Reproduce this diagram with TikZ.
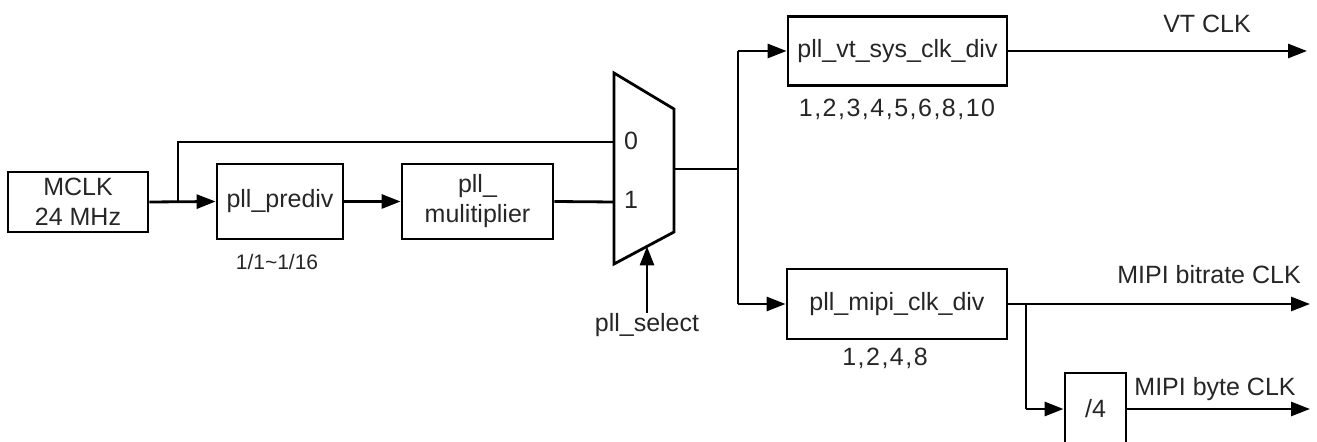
\documentclass[tikz,border=0pt]{standalone}
\usepackage{fontspec}
\setmainfont{Liberation Sans}
\newfontfamily\spacedfont[LetterSpace=6]{Liberation Sans}
\usetikzlibrary{arrows.meta}
\begin{document}
\begin{tikzpicture}[x=0.5pt,y=-0.5pt,
  every node/.style={font=\fontsize{12.5}{15}\selectfont, text=black!85},
  blk/.style={draw, line width=1.4pt, inner sep=0pt, align=center},
  wire/.style={line width=1.4pt},
  arr/.style={line width=1.4pt, -{Triangle[length=9.5pt,width=7pt]}},
  lbl/.style={inner sep=0pt},
  digits/.style={inner sep=0pt, font=\spacedfont\fontsize{12.5}{15}\selectfont}]
\useasboundingbox (0,0) rectangle (1317,442);
\clip (0,0) rectangle (1317,442);
% blocks
\node[blk, minimum width=70pt, minimum height=30pt] (mclk) at (78,202) {MCLK\\24 MHz};
\node[blk, minimum width=63pt, minimum height=37.5pt] (prediv) at (280,201.5) {pll\_prediv};
\node[blk, minimum width=75.5pt, minimum height=37.5pt] (mult) at (477.5,201.5) {pll\_\\mulitiplier};
\node[blk, minimum width=109.5pt, minimum height=34.5pt] (vt) at (897.5,51) {pll\_vt\_sys\_clk\_div};
\node[blk, minimum width=110pt, minimum height=35pt] (mipi) at (897,304) {pll\_mipi\_clk\_div};
\node[blk, minimum width=30.5pt, minimum height=36pt] (div4) at (1095.5,409) {/4};
% mux
\coordinate (mtl) at (614,73);
\coordinate (mtr) at (674,109);
\coordinate (mbr) at (674,232);
\coordinate (mbl) at (614,264);
\draw[wire, line join=miter] (mtl) -- (mtr) -- (mbr) -- (mbl) -- cycle;
\coordinate (mux0) at (614,142);
\coordinate (mux1) at (614,202);
\coordinate (muxout) at (674,169);
\coordinate (muxsel) at (647,246.4);
\node[lbl] (l0) at (631,141) {0};
\node[lbl] (l1) at (631,200) {1};
% labels
\node[lbl, font=\fontsize{10.5}{12}\selectfont] (prelbl) at (277,262) {1/1\textasciitilde 1/16};
\node[digits] (vtlbl) at (897,109) {1,2,3,4,5,6,8,10};
\node[digits] (mipilbl) at (885,358) {1,2,4,8};
\node[lbl] (sel) at (647,325) {pll\_select};
\node[lbl] (vtclk) at (1207,24) {VT CLK};
\node[lbl] (bitclk) at (1209,275) {MIPI bitrate CLK};
\node[lbl] (byteclk) at (1215,389) {MIPI byte CLK};
% junctions and ends
\coordinate (j1) at (178,201.5);
\coordinate (vsplit) at (738,169);
\coordinate (vtop) at (738,51);
\coordinate (vbot) at (738,304);
\coordinate (vtout) at (1307,51);
\coordinate (bitout) at (1310,304);
\coordinate (j2) at (1026,304);
\coordinate (j2b) at (1026,409);
\coordinate (byteout) at (1310,409);
% connectors
\draw[arr] (mclk.east) -- (prediv.west);
\draw[wire] (j1) |- (mux0);
\draw[arr] (prediv.east) -- (mult.west);
\draw[wire] (mult.east) -- (mux1);
\draw[wire] (muxout) -- (vsplit);
\draw[wire] (vtop) -- (vbot);
\draw[arr] (vtop) -- (vt.west);
\draw[arr] (vbot) -- (mipi.west);
\draw[arr] (vt.east) -- (vtout);
\draw[arr] (mipi.east) -- (bitout);
\draw[wire] (j2) -- (j2b);
\draw[arr] (j2b) -- (div4.west);
\draw[arr] (div4.east) -- (byteout);
\draw[arr] (sel.north) -- (muxsel);
\end{tikzpicture}
\end{document}
